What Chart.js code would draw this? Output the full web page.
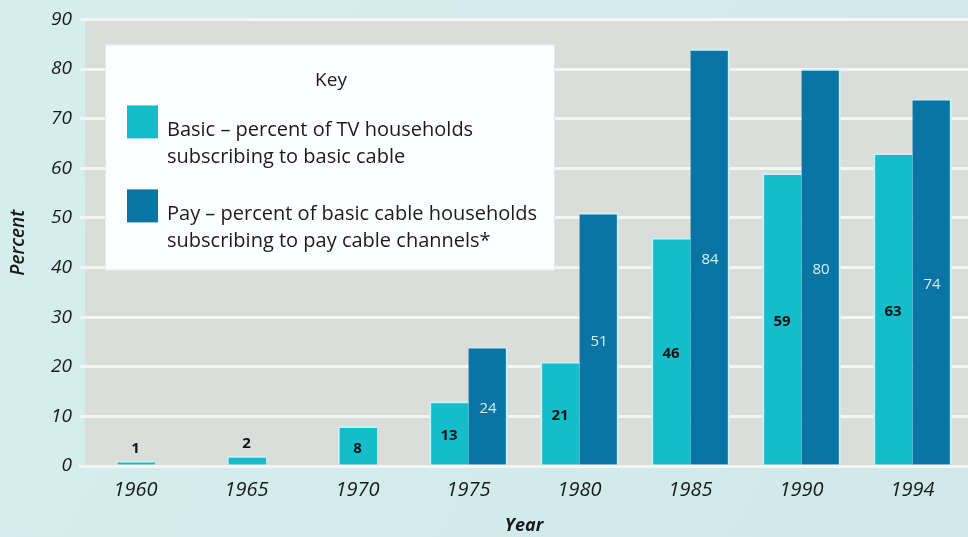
<!DOCTYPE html>
<html>
<head>
<meta charset="utf-8">
<script src="https://cdn.jsdelivr.net/npm/chart.js@4/dist/chart.umd.min.js"></script>
<style>
  html, body { margin: 0; padding: 0; background: #d4ecec; }
  #wrap { width: 968px; height: 537px; }
  canvas { display: block; }
</style>
</head>
<body>
<div id="wrap"><canvas id="c" width="968" height="537"></canvas></div>
<script>
// Cable TV subscription, percent
const years = ['1960', '1965', '1970', '1975', '1980', '1985', '1990', '1994'];
const basicPct = [1, 2, 8, 13, 21, 46, 59, 63];
const payPct = [null, null, null, 24, 51, 84, 80, 74];
const yTicks = [0, 10, 20, 30, 40, 50, 60, 70, 80, 90];

const keyTitle = 'Key';
const basicKey = ['Basic \u2013 percent of TV households', 'subscribing to basic cable'];
const payKey = ['Pay \u2013 percent of basic cable households', 'subscribing to pay cable channels*'];

const FONT = '"Open Sans", "DejaVu Sans", sans-serif';
const BASIC_COLOR = '#15bdcb';
const PAY_COLOR = '#0a75a5';

// page background and grey plotting panel
const panelPlugin = {
  id: 'panel',
  beforeDraw(chart) {
    const { ctx, chartArea: a, width, height } = chart;
    ctx.save();
    const g = ctx.createLinearGradient(0, 0, width, height);
    g.addColorStop(0, '#d6eeee');
    g.addColorStop(1, '#cfe9ea');
    ctx.fillStyle = g;
    ctx.fillRect(0, 0, width, height);
    ctx.fillStyle = '#dbdddb';
    ctx.fillRect(a.left + 5, a.top - 1, a.right - a.left - 5, a.bottom - a.top + 1);
    ctx.restore();
  }
};

// the "Key" box
const keyPlugin = {
  id: 'keyBox',
  beforeDatasetsDraw(chart) {
    const { ctx, chartArea: a } = chart;
    const x0 = a.left + 25, y0 = a.top + 25, w = 450, h = 226;
    ctx.save();
    ctx.fillStyle = '#fdfefe';
    ctx.fillRect(x0, y0, w, h);
    ctx.strokeStyle = '#e6e8e6';
    ctx.lineWidth = 1;
    ctx.strokeRect(x0 + 0.5, y0 + 0.5, w - 1, h - 1);

    ctx.fillStyle = '#1c1c1c';
    ctx.font = '19px ' + FONT;
    ctx.textAlign = 'center';
    ctx.textBaseline = 'alphabetic';
    ctx.fillText(keyTitle, x0 + 226, y0 + 42);

    ctx.font = '20px ' + FONT;
    const rows = [
      { color: chart.data.datasets[0].backgroundColor, lines: chart.data.datasets[0].keyLines, top: y0 + 61 },
      { color: chart.data.datasets[1].backgroundColor, lines: chart.data.datasets[1].keyLines, top: y0 + 145 }
    ];
    rows.forEach(r => {
      ctx.fillStyle = r.color;
      ctx.fillRect(x0 + 22, r.top, 31, 33);
      ctx.fillStyle = '#1c1c1c';
      ctx.textAlign = 'left';
      r.lines.forEach((t, i) => ctx.fillText(t, x0 + 62, r.top + 31 + i * 27));
    });
    ctx.restore();
  }
};

// value labels on the bars
const valuePlugin = {
  id: 'values',
  afterDatasetsDraw(chart) {
    const { ctx } = chart;
    ctx.save();
    ctx.textAlign = 'center';
    ctx.textBaseline = 'middle';
    chart.data.datasets.forEach((ds, di) => {
      const meta = chart.getDatasetMeta(di);
      meta.data.forEach((el, i) => {
        const v = ds.data[i];
        if (v === null || v === undefined) return;
        const hgt = el.base - el.y;
        const y = hgt < 22 ? el.y - 12 : (el.y + el.base) / 2 + 3;
        if (di === 0) {
          ctx.fillStyle = '#101418';
          ctx.font = 'bold 15px ' + FONT;
        } else {
          ctx.fillStyle = '#d4f1f1';
          ctx.font = '15px ' + FONT;
        }
        ctx.fillText(String(v), el.x, y);
      });
    });
    ctx.restore();
  }
};

new Chart(document.getElementById('c'), {
  type: 'bar',
  data: {
    labels: years,
    datasets: [
      {
        label: 'Basic',
        keyLines: basicKey,
        data: basicPct,
        backgroundColor: BASIC_COLOR,
        borderColor: '#c6f2f4',
        borderWidth: { top: 2, left: 2, right: 0, bottom: 0 },
        borderSkipped: false,
        barThickness: 39,
        skipNull: true
      },
      {
        label: 'Pay',
        keyLines: payKey,
        data: payPct,
        backgroundColor: PAY_COLOR,
        borderColor: '#c6f2f4',
        borderWidth: { top: 2, left: 0, right: 2, bottom: 0 },
        borderSkipped: false,
        barThickness: 39,
        skipNull: true
      }
    ]
  },
  options: {
    responsive: false,
    animation: false,
    devicePixelRatio: 1,
    layout: { padding: { top: 17, right: 0, left: 0, bottom: 0 } },
    plugins: {
      legend: { display: false },
      tooltip: { enabled: false }
    },
    scales: {
      x: {
        grid: { display: false, drawTicks: false },
        border: { display: true, color: '#f4f6f4', width: 3 },
        ticks: {
          color: '#1a1a1a',
          padding: 12,
          font: { family: FONT, size: 20, style: 'italic' }
        },
        title: {
          display: true,
          text: 'Year',
          color: '#1a1a1a',
          padding: { top: 0, bottom: 0 },
          font: { family: FONT, size: 18, style: 'italic', weight: 'bold' }
        },
        afterFit(scale) { scale.height = 71; }
      },
      y: {
        min: 0,
        max: 90,
        afterBuildTicks(scale) { scale.ticks = yTicks.map(v => ({ value: v })); },
        grid: { color: '#f4f6f4', lineWidth: 3, drawTicks: false },
        border: { display: false },
        ticks: {
          color: '#1a1a1a',
          padding: 8,
          font: { family: FONT, size: 19, style: 'italic' }
        },
        title: {
          display: true,
          text: 'Percent',
          color: '#1a1a1a',
          padding: { top: 7, bottom: 0 },
          font: { family: FONT, size: 19, style: 'italic', weight: '600' }
        },
        afterFit(scale) { scale.width = 80; }
      }
    }
  },
  plugins: [panelPlugin, keyPlugin, valuePlugin]
});
</script>
</body>
</html>
